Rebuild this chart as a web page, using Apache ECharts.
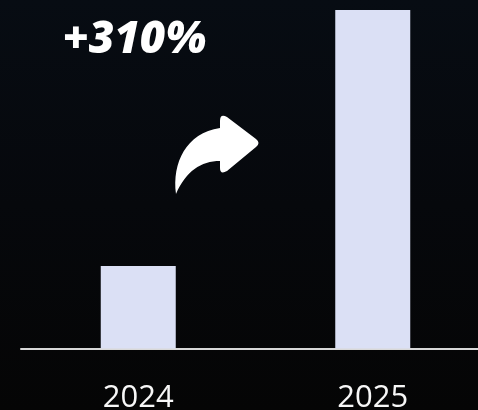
<!DOCTYPE html>
<html>
<head>
<meta charset="utf-8">
<script src="https://cdn.jsdelivr.net/npm/echarts@6/dist/echarts.min.js"></script>
<style>
  html, body { margin: 0; padding: 0; background: #050505; }
  #chart { width: 478px; height: 410px; }
</style>
</head>
<body>
<div id="chart"></div>
<script>
// data
const years = ["2024", "2025"];
const revenue = [100, 410];
const growthLabel = "+310%";

// 弯曲箭头图标
const arrowPath =
  "M176 194 C172 163 186 133 220 128 L220 121 Q220 113 227 117 L256 139 Q261 143 256 147 L227 171 Q220 175 220 168 L220 161 C201 161 186 171 176 194 Z";
echarts.graphic.registerShape("curvedArrow", echarts.graphic.extendPath(arrowPath, {}));

const chart = echarts.init(document.getElementById("chart"));

chart.setOption({
  animation: false,
  backgroundColor: new echarts.graphic.LinearGradient(0, 0, 0, 1, [
    { offset: 0, color: "#070c13" },
    { offset: 0.5, color: "#06080c" },
    { offset: 1, color: "#050505" },
  ]),
  grid: {
    left: 21,
    right: -12,
    top: 10,
    bottom: 61.5,
    containLabel: false,
    outerBoundsMode: "none",
  },
  xAxis: {
    type: "category",
    data: years,
    axisLine: { lineStyle: { color: "#d8d8d8", width: 2 } },
    axisTick: { show: false },
    axisLabel: {
      color: "#f7f7f7",
      fontSize: 31,
      fontFamily: "Open Sans",
      margin: 34,
    },
  },
  yAxis: {
    type: "value",
    min: 0,
    max: 410,
    show: false,
  },
  series: [
    {
      type: "bar",
      data: revenue,
      barWidth: 75,
      itemStyle: { color: "#dbe0f5" },
    },
  ],
  graphic: [
    {
      // 增长率文字
      type: "text",
      left: 63,
      top: 18,
      style: {
        text: growthLabel,
        fill: "#ffffff",
        font: "italic 800 44px 'Open Sans'",
      },
    },
    {
      type: "curvedArrow",
      style: { fill: "#ffffff" },
    },
  ],
});
</script>
</body>
</html>
